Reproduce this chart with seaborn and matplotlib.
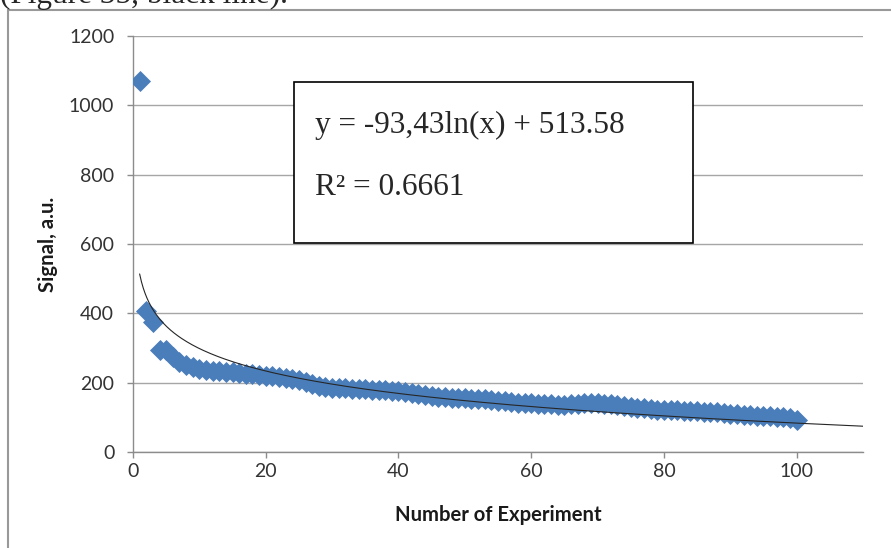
import numpy as np
import pandas as pd
import matplotlib
matplotlib.use("Agg")
import matplotlib.pyplot as plt
from matplotlib.patches import Rectangle
import seaborn as sns

experiment = list(range(1, 101))
signal = [
    1070, 408, 375, 295, 293, 275, 260, 252, 245, 238,
    236, 235, 233, 232, 230, 228, 226, 224, 222, 220,
    218, 216, 213, 210, 207, 202, 196, 190, 188, 186,
    185, 184, 183, 182, 181, 180, 179, 178, 177, 176,
    174, 170, 166, 163, 161, 160, 158, 157, 156, 155,
    154, 153, 152, 150, 148, 146, 144, 142, 141, 140,
    139, 138, 138, 137, 137, 138, 139, 140, 140, 140,
    139, 138, 135, 132, 130, 128, 126, 124, 122, 121,
    120, 120, 119, 118, 117, 116, 115, 114, 112, 111,
    110, 108, 106, 105, 104, 103, 102, 100, 97, 92,
]

# logarithmic trendline as printed in the box
slope = -93.43
intercept = 513.58
r_squared = 0.6661

x_ticks = [0, 20, 40, 60, 80, 100]
y_ticks = [0, 200, 400, 600, 800, 1000, 1200]

df = pd.DataFrame({"experiment": experiment, "signal": signal})
x_fit = np.linspace(1, 110, 400)
fit = pd.DataFrame({"experiment": x_fit, "signal": slope * np.log(x_fit) + intercept})

sns.set_style("white")
plt.rcParams["font.family"] = ["Lato", "DejaVu Sans"]

W, H = 891, 548
fig = plt.figure(figsize=(W / 100, H / 100), dpi=100)
ax = fig.add_axes([133 / W, 1 - 452 / H, 730 / W, 416 / H])

grey = "#8c8c8c"
ax.set_axisbelow(True)
ax.yaxis.grid(True, color="#a6a6a6", linewidth=1.0)
ax.xaxis.grid(False)

sns.scatterplot(data=df, x="experiment", y="signal", marker="D", s=115,
                color="#4a7ebb", linewidth=0, ax=ax, zorder=3)
sns.lineplot(data=fit, x="experiment", y="signal", color="#262626",
             linewidth=0.8, ax=ax, zorder=4)

ax.set_xlim(0, 110)
ax.set_ylim(0, 1200)
ax.set_xticks(x_ticks)
ax.set_yticks(y_ticks)
ax.tick_params(axis="both", direction="out", length=4.5, width=1, color=grey,
               labelsize=14, labelcolor="#333333", left=True, bottom=True)
ax.tick_params(axis="y", pad=9)
for side in ["top", "right"]:
    ax.spines[side].set_visible(False)
for side in ["left", "bottom"]:
    ax.spines[side].set_color(grey)
    ax.spines[side].set_linewidth(1.0)

ax.set_xlabel("Number of Experiment", fontsize=14.6, fontweight="bold", color="#1a1a1a")
ax.set_ylabel("Signal, a.u.", fontsize=14.6, fontweight="bold", color="#1a1a1a")
ax.xaxis.set_label_coords(0.5, (452 - 505) / 416)
ax.yaxis.set_label_coords((58 - 133) / 730, 0.5)

# equation box
serif = ["Liberation Serif", "DejaVu Serif"]
ax.add_patch(Rectangle((294 / W, 1 - 243 / H), 399 / W, 161 / H,
                       transform=fig.transFigure, facecolor="white",
                       edgecolor="black", linewidth=1.2, zorder=5, clip_on=False))
fig.text(315 / W, 1 - 133 / H, f"y = {str(slope).replace('.', ',')}ln(x) + {intercept}",
         family=serif, fontsize=22.5, va="baseline", zorder=6)
fig.text(315 / W, 1 - 195 / H, f"R\u00b2 = {r_squared}",
         family=serif, fontsize=22.5, va="baseline", zorder=6)

# chart frame and clipped caption line above it
fig.patches.append(Rectangle((7.5 / W, -0.05), 1.2, 1 - 10 / H + 0.05,
                             transform=fig.transFigure, fill=False,
                             edgecolor="#999999", linewidth=1.5))
fig.text(0, 1 - 3 / H, "(Figure 35, black line).", family=serif, fontsize=22.5,
         va="baseline")

fig.savefig("out.png", dpi=100)
